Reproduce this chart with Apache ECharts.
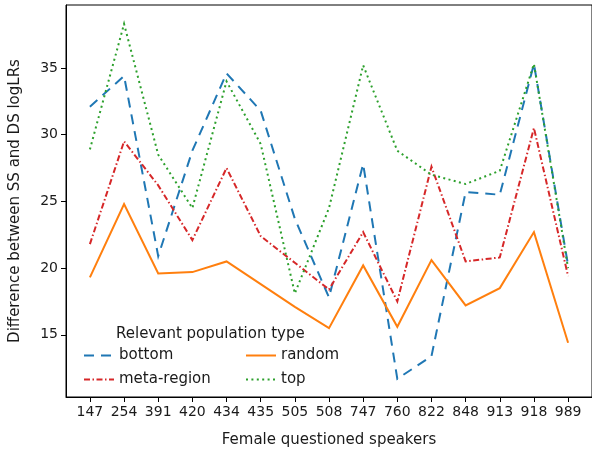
<!DOCTYPE html>
<html>
<head>
<meta charset="utf-8">
<script src="https://cdn.jsdelivr.net/npm/echarts@6/dist/echarts.min.js"></script>
<style>
html,body{margin:0;padding:0;background:#fff;}
#chart{width:592px;height:453px;}
</style>
</head>
<body>
<div id="chart"></div>
<script>
const categories   = ['147','254','391','420','434','435','505','508','747','760','822','848','913','918','989'];
const bottomValues = [32.1, 34.4, 20.9, 28.8, 34.6, 31.8, 23.7, 17.8, 27.8, 11.7, 13.4, 25.7, 25.5, 35.3, 20.2];
const metaValues   = [21.8, 29.5, 26.2, 22.1, 27.5, 22.4, 20.4, 18.4, 22.7, 17.5, 27.6, 20.5, 20.8, 30.5, 19.4];
const randomValues = [19.3, 24.8, 19.6, 19.7, 20.5, 18.8, 17.1, 15.5, 20.2, 15.6, 20.6, 17.2, 18.5, 22.7, 14.4];
const topValues    = [28.9, 38.3, 28.5, 24.5, 34.0, 29.3, 18.1, 24.5, 35.2, 28.8, 27.0, 26.3, 27.3, 35.3, 20.0];
const yTicks = [15, 20, 25, 30, 35];
const legendTitle = 'Relevant population type';
const xName = 'Female questioned speakers';
const yName = 'Difference between SS and DS logLRs';

const xIdx = categories.map((c, i) => i);
const toPairs = arr => arr.map((v, i) => [i, v]);
const font = 'DejaVu Sans';
const txt = '#1a1a1a';

const chart = echarts.init(document.getElementById('chart'), null, {renderer: 'canvas'});

function mkSeries(name, data, color, dash) {
  return {
    name: name, type: 'line', data: toPairs(data), symbol: 'none', showSymbol: false,
    lineStyle: {color: color, width: 2, type: dash, cap: 'butt', join: 'miter'},
    itemStyle: {color: color},
    emphasis: {disabled: true}
  };
}

const legendCommon = {
  orient: 'vertical', top: 343, itemWidth: 30, itemHeight: 14, itemGap: 9,
  itemStyle: {opacity: 0},
  textStyle: {fontFamily: font, fontSize: 15, color: txt}
};

chart.setOption({
  animation: false,
  backgroundColor: '#fff',
  textStyle: {fontFamily: font},
  title: {
    text: legendTitle, left: 111, top: 322,
    textStyle: {fontFamily: font, fontSize: 15, fontWeight: 'normal', color: txt}
  },
  grid: {left: 66, top: 5, right: -2, bottom: 55, show: true, borderColor: '#000', borderWidth: 1, containLabel: false},
  legend: [
    Object.assign({data: ['bottom', 'meta-region'], left: 78}, legendCommon),
    Object.assign({data: ['random', 'top'], left: 240}, legendCommon)
  ],
  xAxis: {
    type: 'value', min: -0.7, max: 14.7,
    name: xName, nameLocation: 'middle', nameGap: 36,
    nameTextStyle: {fontFamily: font, fontSize: 15, color: txt},
    axisLine: {show: true, onZero: false, lineStyle: {color: '#000', width: 1}},
    axisTick: {show: true, length: 5, inside: false, customValues: xIdx, lineStyle: {color: '#000'}},
    axisLabel: {show: true, customValues: xIdx, margin: 8, fontFamily: font, fontSize: 14, color: txt,
      formatter: v => categories[Math.round(v)]},
    splitLine: {show: false}
  },
  yAxis: {
    type: 'value', min: 10.34, max: 39.72,
    name: yName, nameLocation: 'middle', nameGap: 43,
    nameTextStyle: {fontFamily: font, fontSize: 15, color: txt},
    axisLine: {show: true, onZero: false, lineStyle: {color: '#000', width: 1}},
    axisTick: {show: true, length: 5, inside: false, customValues: yTicks, lineStyle: {color: '#000'}},
    axisLabel: {show: true, customValues: yTicks, margin: 8, fontFamily: font, fontSize: 14, color: txt},
    splitLine: {show: false}
  },
  series: [
    mkSeries('bottom', bottomValues, '#1f77b4', [10, 7]),
    mkSeries('meta-region', metaValues, '#d62728', [6, 2.5, 1.5, 2.5]),
    mkSeries('random', randomValues, '#ff7f0e', 'solid'),
    mkSeries('top', topValues, '#2ca02c', [2, 3.4])
  ]
});
</script>
</body>
</html>
